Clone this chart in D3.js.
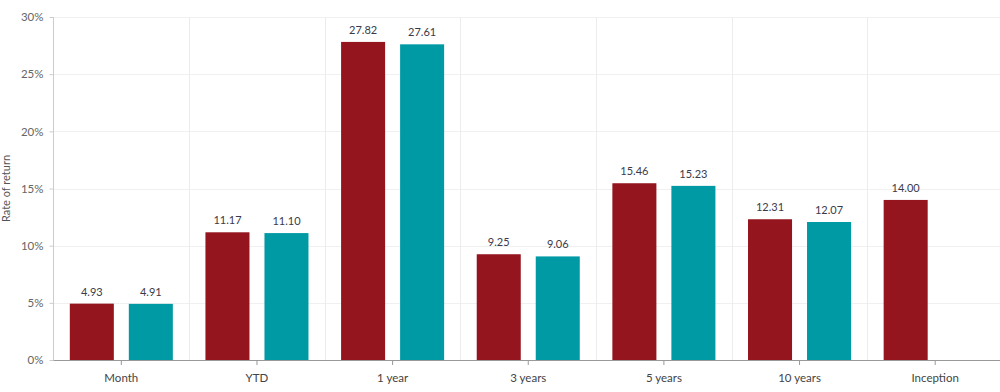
<!DOCTYPE html>
<html><head><meta charset="utf-8">
<script src="https://cdn.jsdelivr.net/npm/d3@7"></script>
<style>
body{margin:0;background:#fff;}
svg text{font-family:Lato,"Open Sans",sans-serif;}
</style></head>
<body><svg id="c" width="1000" height="392"></svg>
<script>
const categories = ["Month","YTD","1 year","3 years","5 years","10 years","Inception"];
const seriesA = [4.93, 11.17, 27.82, 9.25, 15.46, 12.31, 14.00];
const seriesB = [4.91, 11.10, 27.61, 9.06, 15.23, 12.07, null];
const yTicks = [0,5,10,15,20,25,30];
const seriesNames = ["A","B"];
const colors = ["#94151e","#009aa5"];

(function(){
const svg = d3.select("#c");
const mLeft = 53.5, mRight = 1003, mTop = 17, mBottom = 360;
const x0 = d3.scaleBand().domain(categories).range([mLeft, mRight]).padding(0);
const bw = x0.bandwidth();
const x1 = d3.scaleBand().domain(seriesNames).range([16.3, bw-16.3]).paddingInner(0.254);
const y = d3.scaleLinear().domain([0,30]).range([mBottom, mTop]);

// horizontal grid
svg.append("g").selectAll("line").data(yTicks.slice(1)).join("line")
  .attr("x1", mLeft).attr("x2", 1000)
  .attr("y1", d=>Math.round(y(d))+0.5).attr("y2", d=>Math.round(y(d))+0.5)
  .attr("stroke","#f0f0f0");
// vertical grid
svg.append("g").selectAll("line").data(categories.slice(1)).join("line")
  .attr("x1", d=>Math.round(x0(d))+0.5).attr("x2", d=>Math.round(x0(d))+0.5)
  .attr("y1", mTop).attr("y2", mBottom)
  .attr("stroke","#ececec");

// bars
const data = [];
categories.forEach((c,i)=>{
  [seriesA[i], seriesB[i]].forEach((v,j)=>{ if(v!=null) data.push({c, s:seriesNames[j], v, j}); });
});
svg.append("g").selectAll("rect").data(data).join("rect")
  .attr("x", d=>x0(d.c)+x1(d.s))
  .attr("width", x1.bandwidth())
  .attr("y", d=>y(d.v))
  .attr("height", d=>mBottom - y(d.v))
  .attr("fill", d=>colors[d.j]);
svg.append("g").selectAll("text").data(data).join("text")
  .attr("x", d=>x0(d.c)+x1(d.s)+x1.bandwidth()/2)
  .attr("y", d=>y(d.v)-8)
  .attr("text-anchor","middle")
  .attr("font-size", 11)
  .attr("fill","#3a3a4a")
  .text(d=>d.v.toFixed(2));

// y axis
const ya = svg.append("g").attr("transform",`translate(${mLeft},0)`)
  .call(d3.axisLeft(y).tickValues(yTicks).tickFormat(d=>d+"%").tickSize(4).tickPadding(6));
ya.select(".domain").attr("stroke","#ccc").attr("d", `M0,${mTop}V${mBottom}`);
ya.selectAll(".tick line").attr("stroke","#ccc");
ya.selectAll(".tick text").attr("font-size",11.5).attr("fill","#666").attr("font-family","Lato,sans-serif");

// x axis
const xa = svg.append("g").attr("transform",`translate(0,${mBottom})`)
  .call(d3.axisBottom(x0).tickSize(5).tickPadding(9));
xa.select(".domain").attr("stroke","#999").attr("d", `M${mLeft},0.5H1000`);
xa.selectAll(".tick line").attr("stroke","#999");
xa.selectAll(".tick text").attr("font-size",11.5).attr("fill","#444").attr("font-family","Lato,sans-serif");

// y title
svg.append("text").attr("transform",`translate(10,${(mTop+mBottom)/2}) rotate(-90)`)
  .attr("text-anchor","middle").attr("font-size",11).attr("fill","#555")
  .text("Rate of return");
})();
</script></body></html>
